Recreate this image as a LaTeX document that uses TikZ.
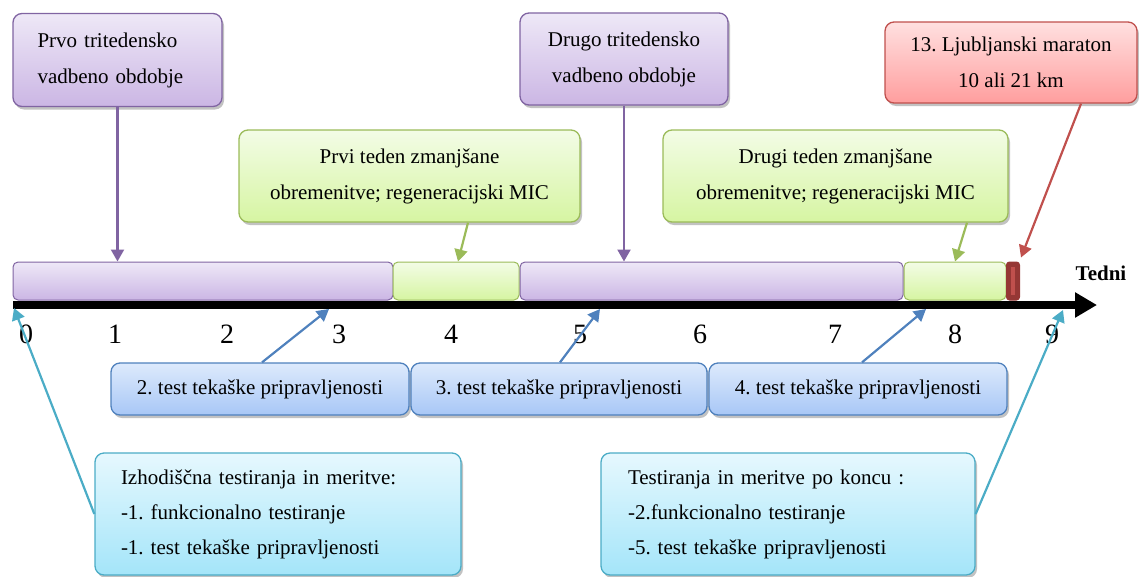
\documentclass[tikz,border=0pt]{standalone}
\usepackage{fontspec}
\setmainfont{Liberation Serif}
\usetikzlibrary{arrows.meta,shadows,calc}
\definecolor{purD}{HTML}{8064A2}
\definecolor{purT}{HTML}{EEE8F7}
\definecolor{purB}{HTML}{CBB6E4}
\definecolor{grnD}{HTML}{9BBB59}
\definecolor{grnT}{HTML}{F3FCE6}
\definecolor{grnB}{HTML}{D6F5A2}
\definecolor{redD}{HTML}{C0504D}
\definecolor{redT}{HTML}{FFE0E0}
\definecolor{redB}{HTML}{FF9E9E}
\definecolor{bluD}{HTML}{4F81BD}
\definecolor{bluT}{HTML}{DDEAFC}
\definecolor{bluB}{HTML}{A8C7F6}
\definecolor{cyaD}{HTML}{4BACC6}
\definecolor{cyaT}{HTML}{E6F8FE}
\definecolor{cyaB}{HTML}{A4E5F9}
\definecolor{mrkD}{HTML}{953735}
\definecolor{mrkL}{HTML}{C0504D}
\frenchspacing
\begin{document}
\begin{tikzpicture}[x=1pt,y=-1pt,
  font=\fontsize{21}{36}\selectfont\frenchspacing,
  box/.style={draw, rounded corners=9pt, line width=1.3pt, inner sep=0pt,
    drop shadow={shadow xshift=2pt, shadow yshift=-3pt, opacity=0.4, fill=black!60}},
  purbox/.style={box, draw=purD, top color=purT, bottom color=purB},
  grnbox/.style={box, draw=grnD, top color=grnT, bottom color=grnB},
  redbox/.style={box, draw=redD, top color=redT, bottom color=redB},
  blubox/.style={box, draw=bluD, top color=bluT, bottom color=bluB},
  cyabox/.style={box, draw=cyaD, top color=cyaT, bottom color=cyaB, font=\fontsize{21}{35}\selectfont\frenchspacing},
  barseg/.style={draw, rounded corners=5pt, line width=1pt, inner sep=0pt, minimum height=38pt},
  conn/.style={line width=2.2pt, -{Triangle[length=12pt,width=13pt]}},
  digit/.style={font=\fontsize{28}{28}\selectfont, inner sep=0pt}
]
\useasboundingbox (0,0) rectangle (1139,576);

% top boxes
\node[purbox, minimum width=209pt, minimum height=93pt, text width=160pt, align=left] (prvo) at (117.5,60) {Prvo tritedensko\\vadbeno obdobje};
\node[purbox, minimum width=208pt, minimum height=92pt, align=center] (drugo) at (624,59) {Drugo tritedensko\\vadbeno obdobje};
\node[redbox, minimum width=252pt, minimum height=81pt, align=center] (mar) at (1011,62.5) {13. Ljubljanski maraton\\10 ali 21 km};
\node[grnbox, minimum width=341pt, minimum height=92pt, align=center] (g1) at (409.5,176) {Prvi teden zmanjšane\\obremenitve; regeneracijski MIC};
\node[grnbox, minimum width=345pt, minimum height=92pt, align=center] (g2) at (835.5,176) {Drugi teden zmanjšane\\obremenitve; regeneracijski MIC};

% timeline segments
\node[barseg, draw=purD, top color=purT, bottom color=purB, minimum width=380pt] (p1) at (203,281) {};
\node[barseg, draw=grnD, top color=grnT, bottom color=grnB, minimum width=126pt] (s1) at (456,281) {};
\node[barseg, draw=purD, top color=purT, bottom color=purB, minimum width=383pt] (p2) at (711.5,281) {};
\node[barseg, draw=grnD, top color=grnT, bottom color=grnB, minimum width=102pt] (s2) at (955,281) {};
\node[draw=mrkD, fill=mrkD, rounded corners=3pt, line width=1pt, inner sep=0pt, minimum width=13pt, minimum height=38pt] (mk) at (1013,281) {};
\fill[mrkL] ($(mk.center)+(-2,-14)$) rectangle ($(mk.center)+(2,14)$);

% axis
\coordinate (axL) at (13,305);
\coordinate (axR) at (1097,305);
\draw[line width=8pt, -{Triangle[length=22pt,width=24pt]}] (axL) -- (axR);
\node[font=\fontsize{21}{21}\selectfont\bfseries, inner sep=0pt] (tedni) at (1101,273) {Tedni};

% digits
\foreach \d/\x in {0/26,1/115,2/227,3/339,4/451,5/580,6/700,7/835,8/955,9/1052}
  \node[digit] (d\d) at (\x,334.5) {\d};

% test boxes
\node[blubox, minimum width=298pt, minimum height=52pt] (t2) at (260,389) {2. test tekaške pripravljenosti};
\node[blubox, minimum width=296pt, minimum height=52pt] (t3) at (559,389) {3. test tekaške pripravljenosti};
\node[blubox, minimum width=298pt, minimum height=52pt] (t4) at (858,389) {4. test tekaške pripravljenosti};

% bottom boxes
\node[cyabox, minimum width=366pt, minimum height=122pt, text width=314pt, align=left] (c1) at (278,514) {Izhodiščna testiranja in meritve:\\-1. funkcionalno testiranje\\-1. test tekaške pripravljenosti};
\node[cyabox, minimum width=374pt, minimum height=122pt, text width=320pt, align=left] (c2) at (788,514) {Testiranja in meritve po koncu :\\-2.funkcionalno testiranje\\-5. test tekaške pripravljenosti};

% arrow targets
\coordinate (a2) at (329,309);
\coordinate (a3) at (600,309);
\coordinate (a4) at (926,309);
\coordinate (a0) at (14,308);
\coordinate (a9) at (1063,310);

% connectors
\draw[conn, purD] (prvo.south) -- (prvo.south |- p1.north);
\draw[conn, purD] (drugo.south) -- (drugo.south |- p2.north);
\draw[conn, grnD] ($(g1.south)+(58.5,0)$) -- ($(s1.north)+(2,0)$);
\draw[conn, grnD] ($(g2.south)+(131.5,0)$) -- (s2.north);
\draw[conn, redD] ($(mar.south)+(70,0)$) -- ($(mk.north)+(8,-4)$);
\draw[conn, bluD] ($(t2.north)+(2,0)$) -- (a2);
\draw[conn, bluD] ($(t3.north)+(1,0)$) -- (a3);
\draw[conn, bluD] ($(t4.north)+(4,0)$) -- (a4);
\draw[conn, cyaD] (c1.west) -- (a0);
\draw[conn, cyaD] (c2.east) -- (a9);
\end{tikzpicture}
\end{document}
